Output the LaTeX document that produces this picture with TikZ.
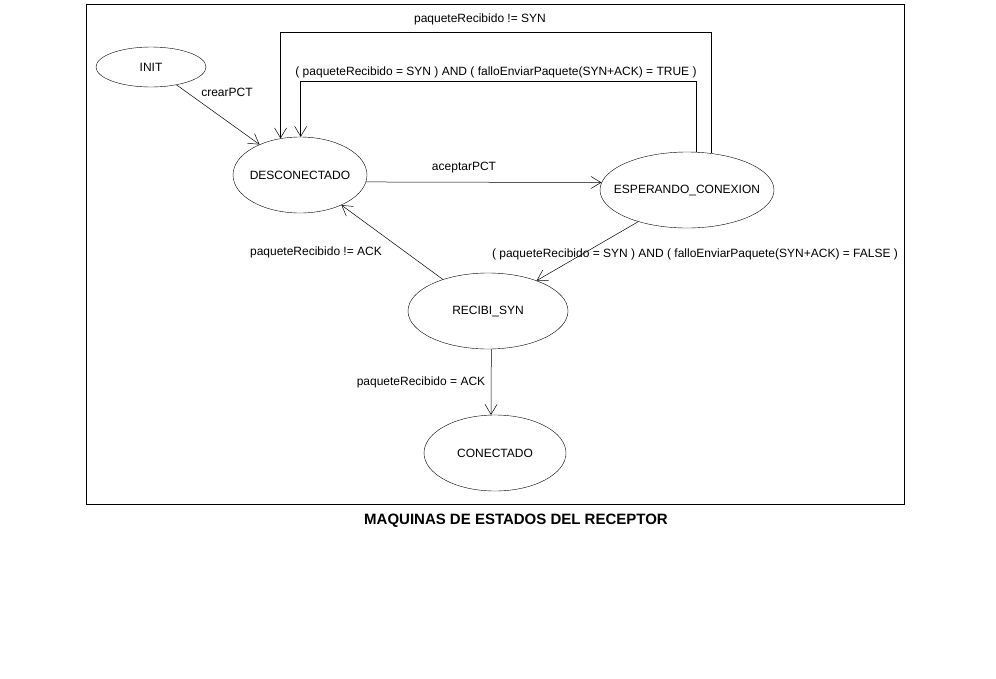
\documentclass[tikz,border=0pt]{standalone}
\usepackage{fontspec}
\setmainfont{Liberation Sans}
\usetikzlibrary{arrows.meta,shapes.geometric}

\tikzset{
  estado/.style={draw, ellipse, inner ysep=0pt, inner xsep=-30pt, font=\fontsize{12}{14}\selectfont},
  trans/.style={-{Straight Barb[length=10pt,width=12pt]}, line width=0.5pt},
  etiqueta/.style={inner sep=0pt, font=\fontsize{12}{14}\selectfont}
}

\begin{document}
\begin{tikzpicture}[x=1pt,y=-1pt]
\useasboundingbox[fill=white] (0,0) rectangle (996,678);
\draw[line width=0.6pt] (86,4) rectangle (904,504);

  \node[estado, minimum width=110, minimum height=40] (init) at (151,67)  {INIT};
  \node[estado, minimum width=134, minimum height=76] (desc) at (300,175) {DESCONECTADO};
  \node[estado, minimum width=174, minimum height=76] (esp)  at (687,190) {ESPERANDO\_CONEXION};
  \node[estado, minimum width=160, minimum height=76] (rsyn) at (488,311) {RECIBI\_SYN};
  \node[estado, minimum width=142, minimum height=76] (con)  at (495,453) {CONECTADO};

  \node[etiqueta] (l1) at (227,92)   {crearPCT};
  \node[etiqueta] (l2) at (464,168)  {aceptarPCT};
  \node[etiqueta] (l3) at (480,19)   {paqueteRecibido != SYN};
  \node[etiqueta] (l4) at (496,72)   {( paqueteRecibido = SYN ) AND ( falloEnviarPaquete(SYN+ACK) = TRUE )};
  \node[etiqueta] (l5) at (695,254)  {( paqueteRecibido = SYN ) AND ( falloEnviarPaquete(SYN+ACK) = FALSE )};
  \node[etiqueta] (l6) at (316,252)  {paqueteRecibido != ACK};
  \node[etiqueta] (l7) at (421,382)  {paqueteRecibido = ACK};

  \node[font=\fontsize{15}{17}\selectfont\bfseries] (titulo) at (516,521) {MAQUINAS DE ESTADOS DEL RECEPTOR};

  \path[trans]
        (init.-35) edge (desc.143)
        (desc.-6) edge (esp.175)
        (esp.-147) edge (rsyn.32)
        (rsyn.145) edge (desc.-36)
        (rsyn.-85) edge (con.96);

  \draw[trans] (esp.56) -- ++(0,-121.5) -| (desc.118);
  \draw[trans] (esp.77) -- ++(0,-71) -| (desc.89);
\end{tikzpicture}
\end{document}
